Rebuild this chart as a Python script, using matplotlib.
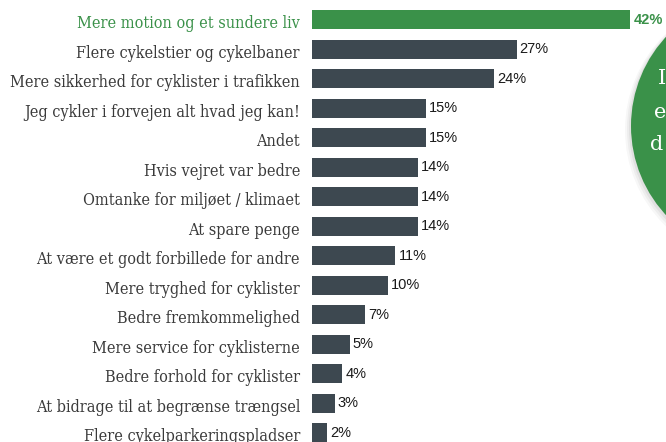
import matplotlib
matplotlib.use("Agg")
import matplotlib.pyplot as plt
from matplotlib.patches import Circle

categories = [
    "Mere motion og et sundere liv",
    "Flere cykelstier og cykelbaner",
    "Mere sikkerhed for cyklister i trafikken",
    "Jeg cykler i forvejen alt hvad jeg kan!",
    "Andet",
    "Hvis vejret var bedre",
    "Omtanke for miljøet / klimaet",
    "At spare penge",
    "At være et godt forbillede for andre",
    "Mere tryghed for cyklister",
    "Bedre fremkommelighed",
    "Mere service for cyklisterne",
    "Bedre forhold for cyklister",
    "At bidrage til at begrænse trængsel",
    "Flere cykelparkeringspladser",
]
values = [42, 27, 24, 15, 15, 14, 14, 14, 11, 10, 7, 5, 4, 3, 2]
circle_letters = ["I", "e", "d"]

GREEN = "#3a9149"
DARK = "#3d4850"
TEXT = "#3a3a3a"

W, H = 666, 442
fig = plt.figure(figsize=(W / 100, H / 100), dpi=100)
fig.patch.set_facecolor("white")

px_per = 7.58
row = 29.5
top = 19.5
left = 312
ax = fig.add_axes([left / W, 0, 1 - left / W, 1])
ax.set_xlim(0, (W - left) / px_per)
ax.set_ylim((H - top) / row, -top / row)
ypos = list(range(len(categories)))
colors = [GREEN] + [DARK] * (len(categories) - 1)
ax.barh(ypos, values, height=19 / row, color=colors)
for s in ax.spines.values():
    s.set_visible(False)
ax.set_xticks([])
ax.set_yticks([])

labels = []
for i, c in enumerate(categories):
    t = ax.annotate(c, xy=(0, i), xytext=(-12, -2), textcoords="offset pixels",
                    ha="right", va="center_baseline", fontsize=10,
                    family="DejaVu Serif", fontstretch="condensed",
                    color=GREEN if i == 0 else TEXT, annotation_clip=False)
    labels.append(t)

fig.canvas.draw()
r = fig.canvas.get_renderer()
maxw = max(t.get_window_extent(r).width for t in labels)
fs = 10 * 290 / maxw
for t in labels:
    t.set_fontsize(fs)

numfam = ["Liberation Sans Narrow", "Liberation Sans", "DejaVu Sans"]
for i, v in enumerate(values):
    ax.annotate(f"{v}%", xy=(v, i), xytext=(3, 0), textcoords="offset pixels",
                va="center", ha="left", fontsize=10.5, family=numfam,
                color=GREEN if i == 0 else "#1a1a1a",
                fontweight="bold" if i == 0 else "normal", annotation_clip=False)

ax2 = fig.add_axes([0, 0, 1, 1], zorder=3)
ax2.set_xlim(0, W)
ax2.set_ylim(H, 0)
ax2.axis("off")
cx, cy, rad = 762, 126, 131
for k, a in enumerate([0.05, 0.04, 0.03]):
    ax2.add_patch(Circle((cx - 1 - k, cy + 2 + k), rad + 1 + k, facecolor="black",
                         alpha=a, edgecolor="none"))
ax2.add_patch(Circle((cx, cy), rad, facecolor=GREEN, edgecolor="none"))
for txt, x, y in zip(circle_letters, [658, 654, 650], [78, 113, 145]):
    ax2.text(x, y, txt, ha="left", va="center", color="white", fontsize=15,
             family="DejaVu Serif")

fig.savefig("out.png", dpi=100)
